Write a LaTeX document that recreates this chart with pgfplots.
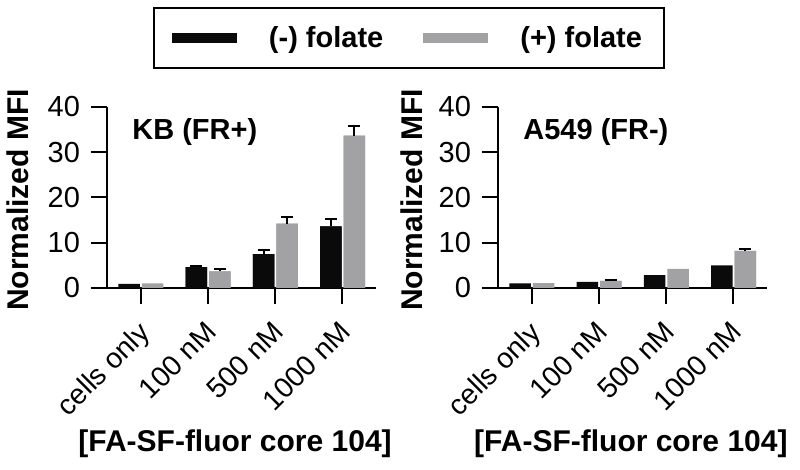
\documentclass[border=0pt]{standalone}
\usepackage{fontspec}
\setmainfont{Liberation Sans}
\usepackage{pgfplots}
\pgfplotsset{compat=1.18}
\definecolor{barblack}{HTML}{0A0A0A}
\definecolor{bargray}{HTML}{A2A2A5}

\pgfplotsset{
  mfi/.style={
    scale only axis, width=134.5pt, height=90.5pt,
    ybar, bar width=0.32,
    xmin=-0.5, xmax=3.5, ymin=0, ymax=40,
    xtick={0,1,2,3}, xticklabels={cells only,100 nM,500 nM,1000 nM},
    ytick={0,10,20,30,40},
    axis lines=left, axis line style={-, line width=1pt},
    tick style={line width=1pt, black}, tick align=outside, major tick length=8pt,
    xticklabel style={xshift=-2pt, yshift=-3pt, rotate=45, anchor=north east,
      font=\fontsize{14.2}{17}\selectfont},
    yticklabel style={font=\fontsize{14.5}{17}\selectfont, xshift=-2pt},
    /pgf/number format/assume math mode=true,
    label style={font=\fontsize{15}{17}\selectfont\bfseries},
    every axis title shift=0pt,
    title style={font=\fontsize{14.5}{17}\selectfont\bfseries, inner sep=0pt,
      at={(rel axis cs:0.093,0.862)}, anchor=west},
    xlabel={[FA-SF-fluor core 104]},
    xlabel style={at={(axis description cs:0.476,-0.86)}, anchor=center},
    ylabel={Normalized MFI},
    error bars/y dir=plus, error bars/y explicit,
    error bars/error bar style={line width=1pt, black},
    error bars/error mark options={rotate=90, mark size=3pt, line width=1pt, black},
  },
  bbar/.style={/pgfplots/legend image code/.code={\fill[##1] (0pt,-2.5pt) rectangle (32.5pt,2.5pt);}},
  blk/.style={bbar, fill=barblack, draw=none, bar shift=-0.172},
  gry/.style={bbar, fill=bargray, draw=none, bar shift=0.178},
  noerr/.style={error bars/draw error bar/.code 2 args={}},
}

\begin{document}
\begin{tikzpicture}
\useasboundingbox (0,0) rectangle (400pt,-235pt);
\begin{axis}[mfi, at={(53.5pt,-144pt)}, anchor=south west,
  title={KB (FR+)},
  ylabel style={at={(axis description cs:-0.331,0.486)}, anchor=center},
  legend columns=2,
  legend style={at={(1.1227,1.381)}, anchor=center, draw=black, line width=1pt,
    font=\fontsize{14.5}{17}\selectfont\bfseries, inner xsep=9pt, inner ysep=7pt,
    /tikz/every odd column/.append style={column sep=14pt},
    /tikz/every even column/.append style={column sep=18pt}}]
\addplot[blk, noerr] coordinates {(0,0.9) (1,4.6) (2,7.5) (3,13.6)};
\addlegendentry{(-) folate}
\addplot[gry, noerr] coordinates {(0,1.0) (1,3.7) (2,14.2) (3,33.7)};
\addlegendentry{(+) folate}
% same bars again, with their error bars
\addplot[blk, forget plot] coordinates {(1,4.6) +- (0,0.2) (2,7.5) +- (0,1.0) (3,13.6) +- (0,1.7)};
\addplot[gry, forget plot] coordinates {(1,3.7) +- (0,0.5) (2,14.2) +- (0,1.4) (3,33.7) +- (0,2.0)};
\end{axis}
\begin{axis}[mfi, at={(249pt,-144pt)}, anchor=south west,
  title={A549 (FR-)},
  xlabel style={at={(axis description cs:0.494,-0.86)}},
  ylabel style={at={(axis description cs:-0.32,0.486)}, anchor=center}]
\addplot[blk, noerr] coordinates {(0,1.0) (1,1.35) (2,2.85) (3,5.0)};
\addplot[gry, noerr] coordinates {(0,1.1) (1,1.6) (2,4.2) (3,8.2)};
\addplot[gry, forget plot] coordinates {(1,1.6) +- (0,0.25) (3,8.2) +- (0,0.35)};
\end{axis}
\end{tikzpicture}
\end{document}
